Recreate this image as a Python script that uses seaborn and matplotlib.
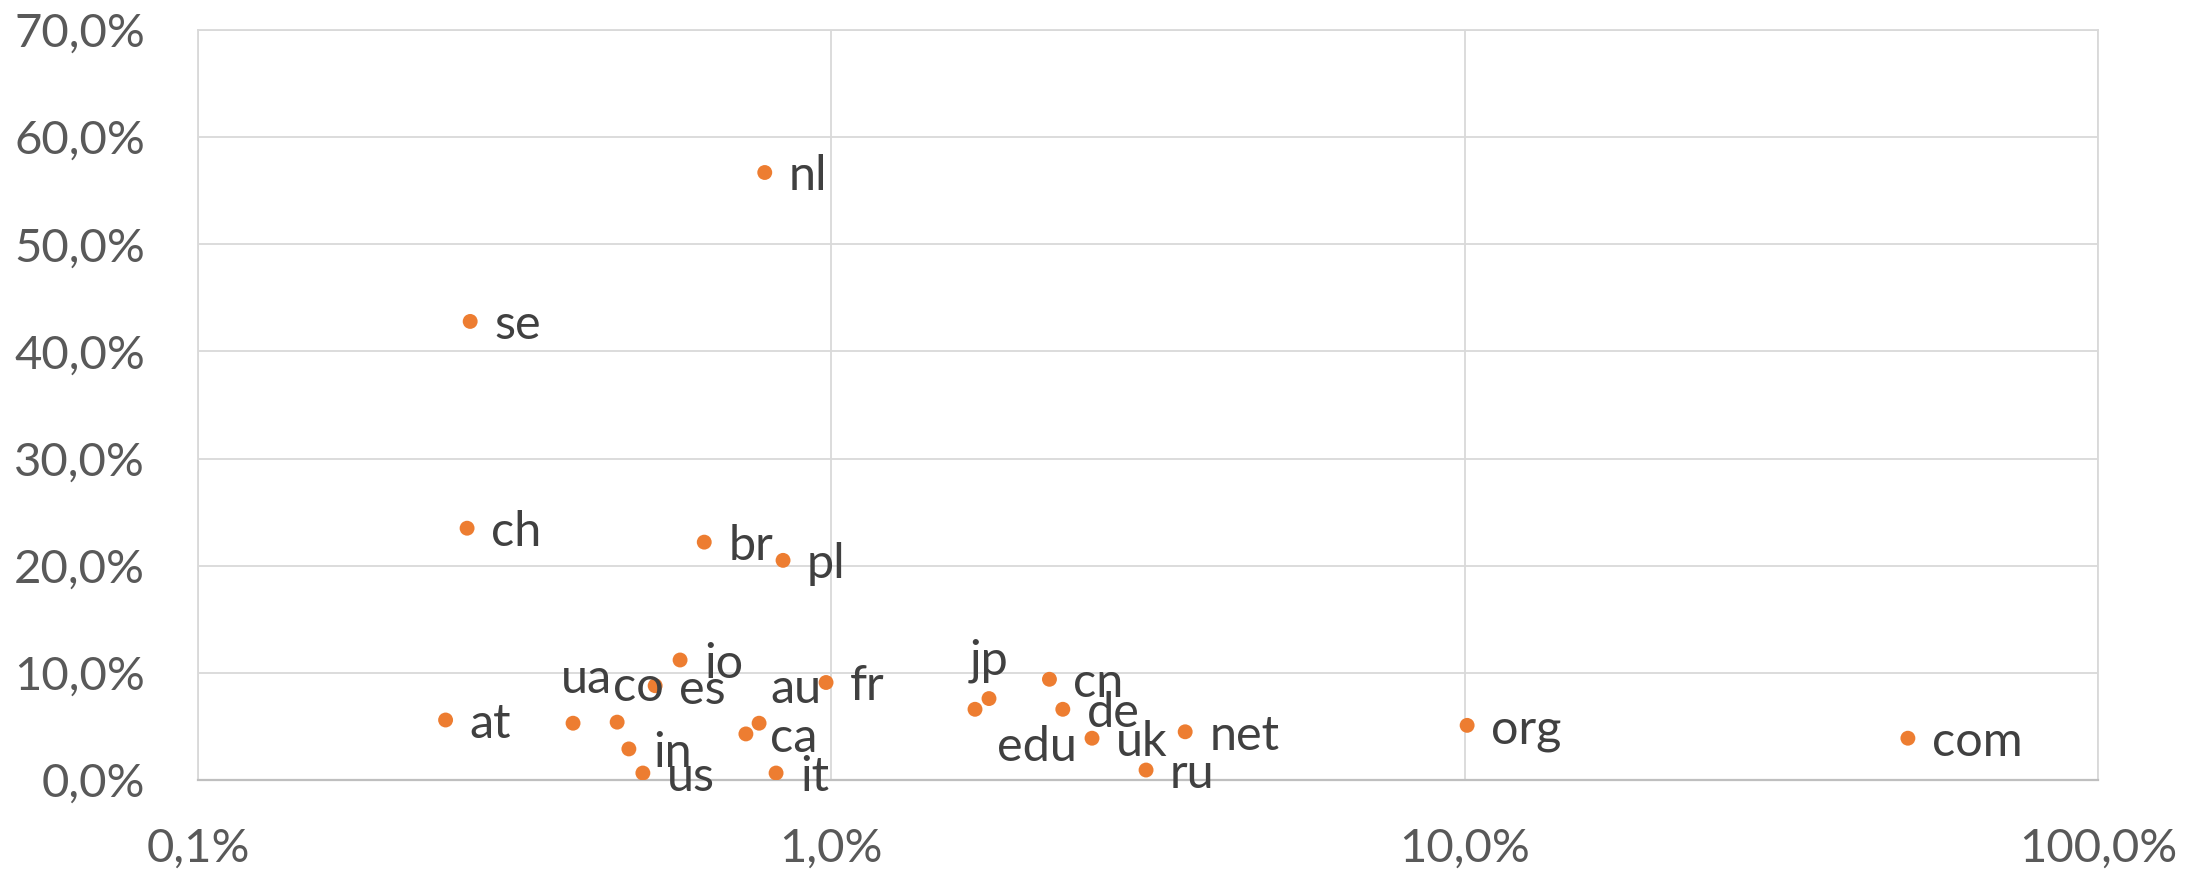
import matplotlib
matplotlib.use("Agg")
import matplotlib.pyplot as plt
import matplotlib.ticker as mticker
import seaborn as sns
import pandas as pd

# --- data (values in %) ---
tlds = ["com", "org", "net", "ru", "uk", "de", "cn", "jp", "edu", "fr",
        "it", "au", "ca", "nl", "pl", "br", "io", "es", "us", "in",
        "co", "ua", "at", "ch", "se"]
x_share = [50.1, 10.09, 3.62, 3.14, 2.58, 2.32, 2.21, 1.774, 1.686, 0.981,
           0.818, 0.769, 0.733, 0.785, 0.839, 0.630, 0.577, 0.527, 0.504, 0.479,
           0.459, 0.391, 0.246, 0.266, 0.269]
y_rate = [3.9, 5.1, 4.5, 0.93, 3.9, 6.6, 9.4, 7.6, 6.6, 9.1,
          0.65, 5.3, 4.3, 56.7, 20.5, 22.2, 11.2, 8.8, 0.65, 2.9,
          5.4, 5.3, 5.6, 23.5, 42.8]
x_ticks = [0.1, 1, 10, 100]
y_ticks = [0, 10, 20, 30, 40, 50, 60, 70]

# label placement (pixel offsets from the point), default is right of point
default_offset = (24, -18)
label_offsets = {
    "ua": (-12, 30),
    "co": (-4, 21),
    "au": (11, 20),
    "jp": (-19, 24),
    "edu": (22, -52),
}

df = pd.DataFrame({"tld": tlds, "x": x_share, "y": y_rate})

sns.set_style("white")
plt.rcParams["font.family"] = ["Lato", "DejaVu Sans"]

ORANGE = "#ED7D31"
GRID = "#D9D9D9"
TICK = "#595959"
LABEL = "#404040"

fig = plt.figure(figsize=(22.08, 8.74), dpi=100)
ax = fig.add_axes([198 / 2208, 1 - 780 / 874, 1900 / 2208, 750 / 874])

sns.scatterplot(data=df, x="x", y="y", ax=ax, color=ORANGE, s=115,
                edgecolor="none", zorder=3, legend=False)

ax.set_xscale("log")
ax.set_xlim(0.1, 100)
ax.set_ylim(0, 70)
ax.set_xticks(x_ticks)
ax.set_yticks(y_ticks)
ax.xaxis.set_minor_locator(mticker.NullLocator())
fmt = mticker.FuncFormatter(lambda v, p: f"{v:.1f}%".replace(".", ","))
ax.xaxis.set_major_formatter(fmt)
ax.yaxis.set_major_formatter(fmt)
ax.set_xlabel("")
ax.set_ylabel("")

ax.grid(True, color=GRID, linewidth=1.3, zorder=0)
ax.set_axisbelow(True)
for side in ["left", "top", "right"]:
    ax.spines[side].set_color(GRID)
    ax.spines[side].set_linewidth(1.3)
ax.spines["bottom"].set_color("#BFBFBF")
ax.spines["bottom"].set_linewidth(1.6)

ax.tick_params(axis="both", length=0, labelsize=34, labelcolor=TICK)
ax.tick_params(axis="y", pad=38)
ax.tick_params(axis="x", pad=34)

for name, xv, yv in zip(tlds, x_share, y_rate):
    off = label_offsets.get(name, default_offset)
    ax.annotate(name, (xv, yv), xytext=off, textcoords="offset pixels",
                ha="left", va="baseline", fontsize=35, color=LABEL, zorder=4)

fig.savefig("out.png", dpi=100)
